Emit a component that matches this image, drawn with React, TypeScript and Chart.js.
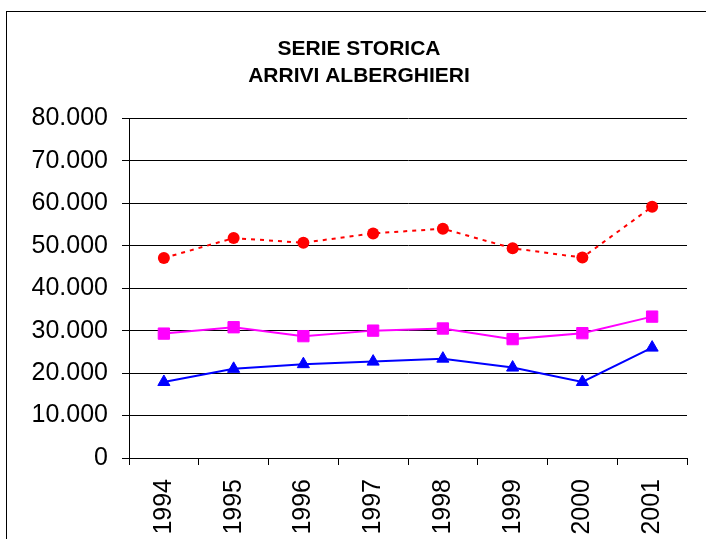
import React, { useEffect, useRef } from "react";
import { Chart, registerables } from "chart.js";

Chart.register(...registerables);

const categories = ["1994", "1995", "1996", "1997", "1998", "1999", "2000", "2001"];
const seriesRed = [47100, 51800, 50700, 52900, 54000, 49400, 47200, 59200];
const seriesMagenta = [29300, 30800, 28700, 30000, 30500, 28000, 29400, 33300];
const seriesBlue = [17900, 21000, 22100, 22700, 23400, 21300, 17900, 26000];
const titleLines = ["SERIE STORICA", "ARRIVI ALBERGHIERI"];
const yMin = 0;
const yMax = 80000;
const yStep = 10000;

const FONT = "'Liberation Sans', Arial, Helvetica, sans-serif";

function formatTick(v: number): string {
  if (v === 0) return "0";
  const s = String(Math.round(v));
  return s.replace(/\B(?=(\d{3})+(?!\d))/g, ".");
}

export default function App() {
  const ref = useRef<HTMLCanvasElement | null>(null);

  useEffect(() => {
    if (!ref.current) return;
    const H = 600;
    const chart = new Chart(ref.current, {
      type: "line",
      data: {
        labels: categories,
        datasets: [
          {
            label: "Red",
            data: seriesRed,
            borderColor: "#FF0000",
            backgroundColor: "#FF0000",
            borderWidth: 2,
            borderDash: [4, 5],
            pointStyle: "circle",
            pointRadius: 6,
            pointBorderWidth: 0,
            pointBackgroundColor: "#FF0000",
            tension: 0,
            fill: false,
          },
          {
            label: "Magenta",
            data: seriesMagenta,
            borderColor: "#FF00FF",
            backgroundColor: "#FF00FF",
            borderWidth: 2,
            pointStyle: "rect",
            pointRadius: 8,
            pointBorderWidth: 1,
            pointBorderColor: "#FF00FF",
            pointBackgroundColor: "#FF00FF",
            tension: 0,
            fill: false,
          },
          {
            label: "Blue",
            data: seriesBlue,
            borderColor: "#0000FF",
            backgroundColor: "#0000FF",
            borderWidth: 2,
            pointStyle: "triangle",
            pointRadius: 7,
            pointBorderWidth: 1,
            pointBorderColor: "#0000FF",
            pointBackgroundColor: "#0000FF",
            tension: 0,
            fill: false,
          },
        ],
      },
      options: {
        animation: false,
        responsive: false,
        maintainAspectRatio: false,
        layout: { padding: { left: 31, right: 19, top: 0, bottom: 0 } },
        plugins: {
          legend: { display: false },
          tooltip: { enabled: false },
          title: {
            display: true,
            text: titleLines,
            color: "#000",
            font: { family: FONT, size: 21, weight: "bold", lineHeight: 1.27 },
            padding: { top: 36, bottom: 29 },
          },
        },
        scales: {
          x: {
            type: "category",
            offset: true,
            grid: {
              offset: true,
              drawOnChartArea: false,
              drawTicks: true,
              tickLength: 7,
              color: "#000",
              lineWidth: 1,
            },
            border: { display: true, color: "#000", width: 1 },
            ticks: {
              color: "#000",
              font: { family: FONT, size: 25 },
              minRotation: 90,
              maxRotation: 90,
              padding: 14,
              autoSkip: false,
            },
            afterFit: (s: any) => {
              s.height = H - 458;
            },
          },
          y: {
            min: yMin,
            max: yMax,
            grid: {
              color: "#000",
              lineWidth: 1,
              drawTicks: true,
              tickLength: 7,
            },
            border: { display: true, color: "#000", width: 1 },
            ticks: {
              stepSize: yStep,
              color: "#000",
              font: { family: FONT, size: 25 },
              padding: 14,
              callback: (v: any) => formatTick(Number(v)),
            },
            afterFit: (s: any) => {
              s.width = 98;
            },
          },
        },
      },
    });
    return () => chart.destroy();
  }, []);

  return (
    <div
      style={{
        position: "fixed",
        left: 0,
        top: 0,
        width: 706,
        height: 539,
        overflow: "hidden",
        background: "#fff",
      }}
    >
      <div
        style={{
          position: "absolute",
          left: 6,
          top: 11,
          width: 800,
          height: 800,
          border: "1px solid #000",
          boxSizing: "border-box",
        }}
      />
      <canvas
        ref={ref}
        width={706}
        height={600}
        style={{ position: "absolute", left: 0, top: 0, width: 706, height: 600 }}
      />
    </div>
  );
}
